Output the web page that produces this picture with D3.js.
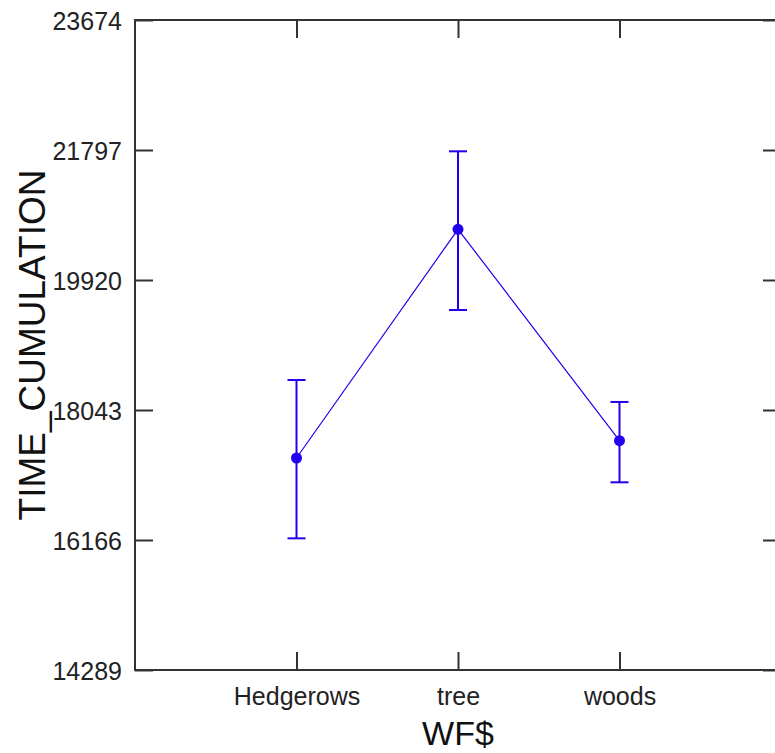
<!DOCTYPE html>
<html>
<head>
<meta charset="utf-8">
<script src="https://cdn.jsdelivr.net/npm/d3@7"></script>
<style>
  html, body { margin: 0; padding: 0; background: #fff; }
  svg { display: block; }
</style>
</head>
<body>
<svg id="chart" width="775" height="753"></svg>
<script>
const categories = ["Hedgerows", "tree", "woods"];
const means = [17350, 20652, 17600];
const upperBars = [18476, 21778, 18159];
const lowerBars = [16190, 19487, 16999];
const yTicks = [14289, 16166, 18043, 19920, 21797, 23674];
const yDomain = [14289, 23674];
const xTitle = "WF$";
const yTitle = "TIME_CUMULATION";

(function () {
const svg = d3.select("#chart");
const pL = 135, pR = 781, pT = 20, pB = 670;
const blue = "#2200ee";
const axisColor = "#333";
const font = "Arial, 'Liberation Sans', sans-serif";

const x = d3.scalePoint().domain(categories).range([pL, pR]).padding(1);
const y = d3.scaleLinear().domain(yDomain).range([pB, pT]);

// frame
svg.append("rect")
  .attr("x", pL).attr("y", pT)
  .attr("width", pR - pL).attr("height", pB - pT)
  .attr("fill", "none").attr("stroke", axisColor).attr("stroke-width", 2);

function styleAxis(g) {
  g.select(".domain").remove();
  g.selectAll(".tick line").attr("stroke", axisColor).attr("stroke-width", 2);
  g.selectAll(".tick text").attr("fill", "#222").attr("font-family", font).attr("font-size", 25);
}

svg.append("g").attr("transform", `translate(${pL},0)`)
  .call(d3.axisLeft(y).tickValues(yTicks).tickSize(-18).tickPadding(13).tickFormat(d3.format("d")))
  .call(styleAxis)
  .call(g => g.selectAll(".tick text").attr("dy", "0.36em"));

svg.append("g").attr("transform", `translate(${pR},0)`)
  .call(d3.axisRight(y).tickValues(yTicks).tickSize(-18).tickFormat(""))
  .call(styleAxis);

svg.append("g").attr("transform", `translate(0,${pT})`)
  .call(d3.axisTop(x).tickSize(-18).tickFormat(""))
  .call(styleAxis);

svg.append("g").attr("transform", `translate(0,${pB})`)
  .call(d3.axisBottom(x).tickSize(-18).tickPadding(17))
  .call(styleAxis);

// axis titles
svg.append("text")
  .attr("x", x("tree")).attr("y", 745)
  .attr("text-anchor", "middle")
  .attr("font-family", font).attr("font-size", 34).attr("fill", "#111")
  .text(xTitle);

svg.append("text")
  .attr("transform", `translate(45,${(pT + pB) / 2}) rotate(-90)`)
  .attr("text-anchor", "middle")
  .attr("font-family", font).attr("font-size", 37).attr("fill", "#111")
  .text(yTitle);

// data
const data = categories.map((c, i) => ({ c, m: means[i], hi: upperBars[i], lo: lowerBars[i] }));

svg.append("path")
  .datum(data)
  .attr("fill", "none").attr("stroke", blue).attr("stroke-width", 1.2)
  .attr("d", d3.line().x(d => x(d.c)).y(d => y(d.m)));

const eb = svg.append("g").attr("stroke", blue).attr("stroke-width", 2);
eb.selectAll("line.v").data(data).join("line").attr("class", "v")
  .attr("x1", d => x(d.c)).attr("x2", d => x(d.c))
  .attr("y1", d => y(d.hi)).attr("y2", d => y(d.lo));
eb.selectAll("line.hi").data(data).join("line").attr("class", "hi")
  .attr("x1", d => x(d.c) - 9).attr("x2", d => x(d.c) + 9)
  .attr("y1", d => y(d.hi)).attr("y2", d => y(d.hi));
eb.selectAll("line.lo").data(data).join("line").attr("class", "lo")
  .attr("x1", d => x(d.c) - 9).attr("x2", d => x(d.c) + 9)
  .attr("y1", d => y(d.lo)).attr("y2", d => y(d.lo));

svg.append("g").selectAll("circle").data(data).join("circle")
  .attr("cx", d => x(d.c)).attr("cy", d => y(d.m)).attr("r", 5.5)
  .attr("fill", blue);
})();
</script>
</body>
</html>
